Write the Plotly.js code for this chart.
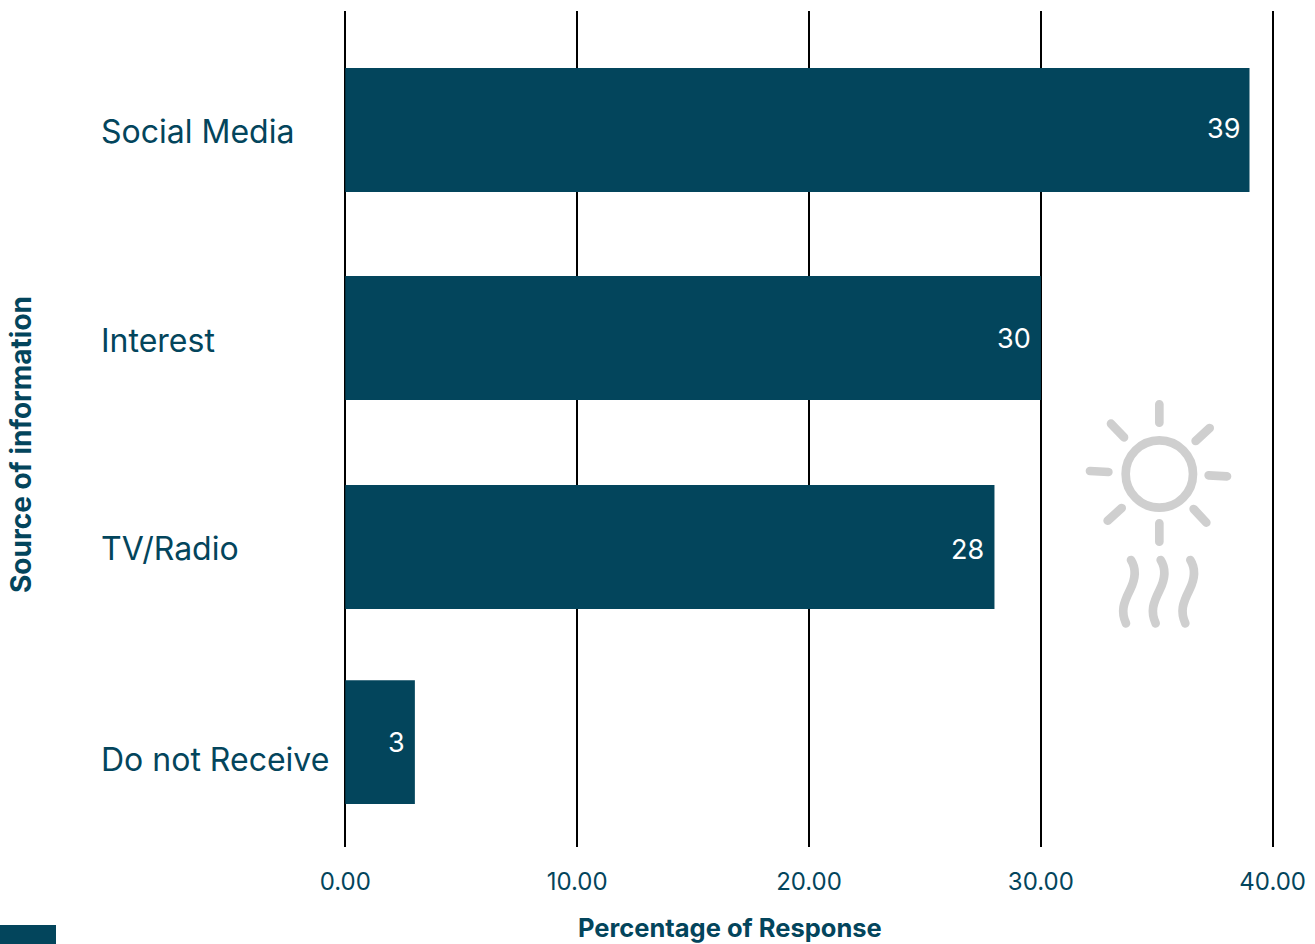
<!DOCTYPE html>
<html>
<head>
<meta charset="utf-8">
<script src="https://cdn.plot.ly/plotly-3.0.1.min.js"></script>
<style>html,body{margin:0;padding:0;background:#fff;overflow:hidden}#chart{width:1315px;height:944px}</style>
</head>
<body>
<div id="chart"></div>
<script>
// Survey responses by source of information
const categories = ["Social Media", "Interest", "TV/Radio", "Do not Receive"];
const responses = [39, 30, 28, 3];
const percentTicks = [0, 10, 20, 30, 40];

const TEAL = "#03455c";
const FONT = "Inter, 'Open Sans', sans-serif";
const W = 1315, H = 944;
const M = {l: 343, r: 40, t: 11, b: 97};

// Vertical placement of each bar within its category band
const barWidth = 0.592;
const barOffsets = [-0.301, -0.307, -0.309, -0.377];
const valueLabelShift = [2, 2, 0, 17];
const categoryLabelShift = [-1, 0, 1, 0];

const sunIcon = `<svg xmlns="http://www.w3.org/2000/svg" viewBox="0 0 570 750" width="570" height="750">
<g fill="none" stroke="#cfcfcf" stroke-width="26" stroke-linecap="round">
<circle cx="298" cy="252" r="101"/>
<path d="M298 43V98M298 400V455M90 243L145 246M446 256L501 259M153 101L192 142M449 114L407 153M143 392L185 354M401 357L439 398"/>
<path d="M213 510C232 540 225 570 210 600C190 640 182 665 198 700"/>
<path d="M302 510C321 540 314 570 299 600C279 640 271 665 287 700"/>
<path d="M391 510C410 540 403 570 388 600C368 640 360 665 376 700"/>
</g></svg>`;

const px = x => (x - M.l) / (W - M.l - M.r);
const py = y => 1 - (y - M.t) / (H - M.t - M.b);

const categoryLabels = categories.map((c, i) => ({
  text: c, xref: "paper", yref: "y", x: px(99), y: c,
  xanchor: "left", yanchor: "middle", showarrow: false, yshift: categoryLabelShift[i],
  font: {family: FONT, size: 32, color: TEAL}
}));

const valueLabels = categories.map((c, i) => ({
  text: String(responses[i]), xref: "x", yref: "y", x: responses[i], y: c,
  xanchor: "right", yanchor: "middle", xshift: -8, yshift: valueLabelShift[i], showarrow: false,
  font: {family: FONT, size: 27, color: "#ffffff"}
}));

const axisTitles = [
  {text: "<b>Percentage of Response</b>", xref: "paper", yref: "paper", x: px(730), y: py(927.5),
   xanchor: "center", yanchor: "middle", showarrow: false,
   font: {family: FONT, size: 25.5, color: TEAL}},
  {text: "<b>Source of information</b>", xref: "paper", yref: "paper", x: px(21), y: py(445),
   xanchor: "center", yanchor: "middle", textangle: -90, showarrow: false,
   font: {family: FONT, size: 28, color: TEAL}}
];

Plotly.newPlot("chart", [{
  type: "bar",
  orientation: "h",
  y: categories,
  x: responses,
  width: barWidth,
  offset: barOffsets,
  marker: {color: TEAL, line: {width: 0}},
  hoverinfo: "x+y"
}], {
  width: W,
  height: H,
  margin: M,
  paper_bgcolor: "#ffffff",
  plot_bgcolor: "#ffffff",
  showlegend: false,
  xaxis: {
    // A small overscan keeps the gridlines at 0 and 40 inside the plot
    range: [-0.1, 40.1],
    tickmode: "array",
    tickvals: percentTicks,
    tickformat: ".2f",
    showgrid: true,
    gridcolor: "#000000",
    gridwidth: 2,
    zeroline: false,
    showline: false,
    ticks: "",
    ticklabelstandoff: 18,
    tickfont: {family: FONT, size: 24, color: TEAL}
  },
  yaxis: {
    type: "category",
    categoryorder: "array",
    categoryarray: categories,
    range: [3.42, -0.573],
    showgrid: false,
    zeroline: false,
    showline: false,
    ticks: "",
    showticklabels: false
  },
  annotations: [...categoryLabels, ...valueLabels, ...axisTitles],
  images: [{
    source: "data:image/svg+xml;charset=utf-8," + encodeURIComponent(sunIcon),
    xref: "paper", yref: "paper",
    x: px(1060), y: py(390),
    sizex: 190 / (W - M.l - M.r), sizey: 250 / (H - M.t - M.b),
    xanchor: "left", yanchor: "top", sizing: "stretch", layer: "above"
  }],
  shapes: [{
    type: "rect", xref: "paper", yref: "paper",
    x0: px(0), x1: px(56), y0: py(925), y1: py(944),
    fillcolor: TEAL, line: {width: 0}
  }]
}, {displayModeBar: false, responsive: false});
</script>
</body>
</html>
